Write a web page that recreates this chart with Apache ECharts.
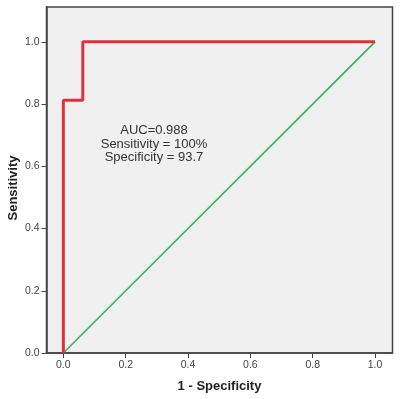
<!DOCTYPE html>
<html><head><meta charset="utf-8">
<script src="https://cdn.jsdelivr.net/npm/echarts@6/dist/echarts.min.js"></script>
<style>html,body{margin:0;padding:0;background:#fff}#c{width:400px;height:399px}</style>
</head><body><div id="c"></div>
<script>
const rocX = [0, 0, 0.0625, 0.0625, 1];
const rocY = [0, 0.8125, 0.8125, 1, 1];
const refX = [0, 1];
const refY = [0, 1];
const xTicks = [0, 0.2, 0.4, 0.6, 0.8, 1.0];
const yTicks = [0, 0.2, 0.4, 0.6, 0.8, 1.0];
const annotation = ['AUC=0.988', 'Sensitivity = 100%', 'Specificity = 93.7'];

const chart = echarts.init(document.getElementById('c'));
const font = 'Liberation Sans, Arial, sans-serif';
chart.setOption({
  animation: false,
  backgroundColor: '#fff',
  grid: {left: 46.5, top: 7, width: 346, height: 346, backgroundColor: '#f0f0f0', show: true, borderColor: '#444', borderWidth: 1.5, containLabel: false, outerBoundsMode: 'none'},
  xAxis: {
    type: 'value', min: -0.054, max: 1.056,
    name: '1 - Specificity', nameLocation: 'middle', nameGap: 27, nameMoveOverlap: false,
    nameTextStyle: {fontFamily: font, fontWeight: 'bold', fontSize: 13, color: '#222'},
    axisLine: {show: true, onZero: false, lineStyle: {color: '#444', width: 1.5}},
    axisTick: {show: true, length: 5, lineStyle: {color: '#444'}, customValues: xTicks},
    axisLabel: {fontFamily: font, fontSize: 10.5, color: '#444', margin: 7, customValues: xTicks, formatter: v => v.toFixed(1)},
    splitLine: {show: false}
  },
  yAxis: {
    type: 'value', min: 0, max: 1.112,
    name: 'Sensitivity', nameLocation: 'middle', nameGap: 27, nameMoveOverlap: false,
    nameTextStyle: {fontFamily: font, fontWeight: 'bold', fontSize: 13, color: '#222', padding: [0, 16, 0, 0]},
    axisLine: {show: true, onZero: false, lineStyle: {color: '#444', width: 1.5}},
    axisTick: {show: true, length: 5, lineStyle: {color: '#444'}, customValues: yTicks},
    axisLabel: {fontFamily: font, fontSize: 10.5, color: '#444', margin: 7, customValues: yTicks, formatter: v => v.toFixed(1)},
    splitLine: {show: false}
  },
  series: [
    {type: 'line', data: refX.map((x, i) => [x, refY[i]]), symbol: 'none', lineStyle: {color: '#3cb05a', width: 1.7}},
    {type: 'line', data: rocX.map((x, i) => [x, rocY[i]]), symbol: 'none', lineStyle: {color: '#e0303c', width: 3}}
  ],
  graphic: [{
    type: 'text', x: 154, y: 124,
    style: {text: annotation.join('\n'), fontFamily: font, fontSize: 13, lineHeight: 13.5, fill: '#333', align: 'center'}
  }]
});
</script></body></html>
